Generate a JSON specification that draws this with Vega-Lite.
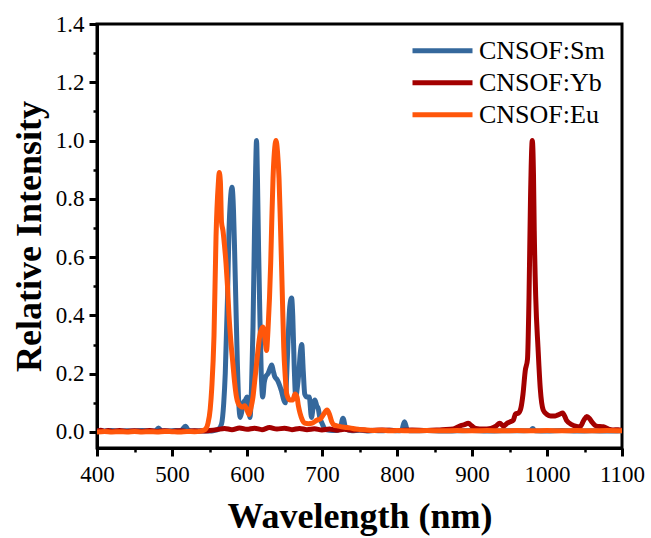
{
  "$schema": "https://vega.github.io/schema/vega-lite/v6.json",
  "width": 525,
  "height": 424,
  "autosize": {"type": "none"},
  "padding": {"left": 97, "top": 24, "right": 29, "bottom": 90},
  "background": "white",
  "config": {
    "font": "Liberation Serif",
    "view": {"stroke": "black", "strokeWidth": 3},
    "axis": {
      "domainColor": "black",
      "domainWidth": 3,
      "tickColor": "black",
      "tickWidth": 3,
      "grid": false,
      "labelFont": "Liberation Serif",
      "labelFontSize": 23,
      "labelColor": "black",
      "titleFont": "Liberation Serif",
      "titleFontSize": 36,
      "titleFontWeight": "bold",
      "titleColor": "black"
    }
  },
  "data": {
    "values": [
      {"sample": "CNSOF:Sm", "wavelength": 400, "intensity": 0.004},
      {"sample": "CNSOF:Sm", "wavelength": 410, "intensity": 0.003},
      {"sample": "CNSOF:Sm", "wavelength": 420, "intensity": 0.005},
      {"sample": "CNSOF:Sm", "wavelength": 430, "intensity": 0.002},
      {"sample": "CNSOF:Sm", "wavelength": 440, "intensity": 0.004},
      {"sample": "CNSOF:Sm", "wavelength": 450, "intensity": 0.003},
      {"sample": "CNSOF:Sm", "wavelength": 460, "intensity": 0.005},
      {"sample": "CNSOF:Sm", "wavelength": 470, "intensity": 0.003},
      {"sample": "CNSOF:Sm", "wavelength": 478, "intensity": 0.004},
      {"sample": "CNSOF:Sm", "wavelength": 482, "intensity": 0.014},
      {"sample": "CNSOF:Sm", "wavelength": 486, "intensity": 0.004},
      {"sample": "CNSOF:Sm", "wavelength": 495, "intensity": 0.003},
      {"sample": "CNSOF:Sm", "wavelength": 505, "intensity": 0.005},
      {"sample": "CNSOF:Sm", "wavelength": 512, "intensity": 0.004},
      {"sample": "CNSOF:Sm", "wavelength": 518, "intensity": 0.02},
      {"sample": "CNSOF:Sm", "wavelength": 522, "intensity": 0.005},
      {"sample": "CNSOF:Sm", "wavelength": 530, "intensity": 0.003},
      {"sample": "CNSOF:Sm", "wavelength": 540, "intensity": 0.004},
      {"sample": "CNSOF:Sm", "wavelength": 550, "intensity": 0.003},
      {"sample": "CNSOF:Sm", "wavelength": 556, "intensity": 0.005},
      {"sample": "CNSOF:Sm", "wavelength": 562, "intensity": 0.01},
      {"sample": "CNSOF:Sm", "wavelength": 566, "intensity": 0.027},
      {"sample": "CNSOF:Sm", "wavelength": 569, "intensity": 0.1},
      {"sample": "CNSOF:Sm", "wavelength": 571, "intensity": 0.2},
      {"sample": "CNSOF:Sm", "wavelength": 574, "intensity": 0.46},
      {"sample": "CNSOF:Sm", "wavelength": 576, "intensity": 0.69},
      {"sample": "CNSOF:Sm", "wavelength": 578, "intensity": 0.8},
      {"sample": "CNSOF:Sm", "wavelength": 580, "intensity": 0.84},
      {"sample": "CNSOF:Sm", "wavelength": 582, "intensity": 0.76},
      {"sample": "CNSOF:Sm", "wavelength": 583.5, "intensity": 0.62},
      {"sample": "CNSOF:Sm", "wavelength": 585, "intensity": 0.46},
      {"sample": "CNSOF:Sm", "wavelength": 587, "intensity": 0.25},
      {"sample": "CNSOF:Sm", "wavelength": 589, "intensity": 0.1},
      {"sample": "CNSOF:Sm", "wavelength": 591, "intensity": 0.05},
      {"sample": "CNSOF:Sm", "wavelength": 593, "intensity": 0.07},
      {"sample": "CNSOF:Sm", "wavelength": 595, "intensity": 0.1},
      {"sample": "CNSOF:Sm", "wavelength": 598, "intensity": 0.11},
      {"sample": "CNSOF:Sm", "wavelength": 600, "intensity": 0.12},
      {"sample": "CNSOF:Sm", "wavelength": 602, "intensity": 0.09},
      {"sample": "CNSOF:Sm", "wavelength": 604, "intensity": 0.05},
      {"sample": "CNSOF:Sm", "wavelength": 606, "intensity": 0.15},
      {"sample": "CNSOF:Sm", "wavelength": 608, "intensity": 0.36},
      {"sample": "CNSOF:Sm", "wavelength": 610, "intensity": 0.69},
      {"sample": "CNSOF:Sm", "wavelength": 611.5, "intensity": 0.9},
      {"sample": "CNSOF:Sm", "wavelength": 612.7, "intensity": 1.0},
      {"sample": "CNSOF:Sm", "wavelength": 614, "intensity": 0.86},
      {"sample": "CNSOF:Sm", "wavelength": 615.5, "intensity": 0.62},
      {"sample": "CNSOF:Sm", "wavelength": 617, "intensity": 0.42},
      {"sample": "CNSOF:Sm", "wavelength": 619, "intensity": 0.2},
      {"sample": "CNSOF:Sm", "wavelength": 621, "intensity": 0.12},
      {"sample": "CNSOF:Sm", "wavelength": 623, "intensity": 0.17},
      {"sample": "CNSOF:Sm", "wavelength": 625, "intensity": 0.19},
      {"sample": "CNSOF:Sm", "wavelength": 628, "intensity": 0.2},
      {"sample": "CNSOF:Sm", "wavelength": 631, "intensity": 0.22},
      {"sample": "CNSOF:Sm", "wavelength": 633, "intensity": 0.23},
      {"sample": "CNSOF:Sm", "wavelength": 635, "intensity": 0.21},
      {"sample": "CNSOF:Sm", "wavelength": 637, "intensity": 0.19},
      {"sample": "CNSOF:Sm", "wavelength": 640, "intensity": 0.18},
      {"sample": "CNSOF:Sm", "wavelength": 642, "intensity": 0.17},
      {"sample": "CNSOF:Sm", "wavelength": 646, "intensity": 0.14},
      {"sample": "CNSOF:Sm", "wavelength": 649, "intensity": 0.11},
      {"sample": "CNSOF:Sm", "wavelength": 651, "intensity": 0.1},
      {"sample": "CNSOF:Sm", "wavelength": 653, "intensity": 0.2},
      {"sample": "CNSOF:Sm", "wavelength": 655, "intensity": 0.33},
      {"sample": "CNSOF:Sm", "wavelength": 657, "intensity": 0.43},
      {"sample": "CNSOF:Sm", "wavelength": 659.5, "intensity": 0.46},
      {"sample": "CNSOF:Sm", "wavelength": 661, "intensity": 0.4},
      {"sample": "CNSOF:Sm", "wavelength": 663, "intensity": 0.22},
      {"sample": "CNSOF:Sm", "wavelength": 665, "intensity": 0.12},
      {"sample": "CNSOF:Sm", "wavelength": 667, "intensity": 0.15},
      {"sample": "CNSOF:Sm", "wavelength": 669, "intensity": 0.2},
      {"sample": "CNSOF:Sm", "wavelength": 671, "intensity": 0.27},
      {"sample": "CNSOF:Sm", "wavelength": 673, "intensity": 0.3},
      {"sample": "CNSOF:Sm", "wavelength": 675, "intensity": 0.21},
      {"sample": "CNSOF:Sm", "wavelength": 677, "intensity": 0.13},
      {"sample": "CNSOF:Sm", "wavelength": 680, "intensity": 0.12},
      {"sample": "CNSOF:Sm", "wavelength": 683, "intensity": 0.12},
      {"sample": "CNSOF:Sm", "wavelength": 686, "intensity": 0.05},
      {"sample": "CNSOF:Sm", "wavelength": 688, "intensity": 0.08},
      {"sample": "CNSOF:Sm", "wavelength": 690.5, "intensity": 0.11},
      {"sample": "CNSOF:Sm", "wavelength": 693, "intensity": 0.09},
      {"sample": "CNSOF:Sm", "wavelength": 695, "intensity": 0.08},
      {"sample": "CNSOF:Sm", "wavelength": 697, "intensity": 0.05},
      {"sample": "CNSOF:Sm", "wavelength": 700, "intensity": 0.03},
      {"sample": "CNSOF:Sm", "wavelength": 704, "intensity": 0.01},
      {"sample": "CNSOF:Sm", "wavelength": 710, "intensity": 0.006},
      {"sample": "CNSOF:Sm", "wavelength": 718, "intensity": 0.005},
      {"sample": "CNSOF:Sm", "wavelength": 724, "intensity": 0.01},
      {"sample": "CNSOF:Sm", "wavelength": 728, "intensity": 0.047},
      {"sample": "CNSOF:Sm", "wavelength": 732, "intensity": 0.01},
      {"sample": "CNSOF:Sm", "wavelength": 740, "intensity": 0.004},
      {"sample": "CNSOF:Sm", "wavelength": 750, "intensity": 0.006},
      {"sample": "CNSOF:Sm", "wavelength": 760, "intensity": 0.003},
      {"sample": "CNSOF:Sm", "wavelength": 770, "intensity": 0.005},
      {"sample": "CNSOF:Sm", "wavelength": 780, "intensity": 0.004},
      {"sample": "CNSOF:Sm", "wavelength": 790, "intensity": 0.006},
      {"sample": "CNSOF:Sm", "wavelength": 800, "intensity": 0.004},
      {"sample": "CNSOF:Sm", "wavelength": 806, "intensity": 0.005},
      {"sample": "CNSOF:Sm", "wavelength": 810, "intensity": 0.035},
      {"sample": "CNSOF:Sm", "wavelength": 814, "intensity": 0.006},
      {"sample": "CNSOF:Sm", "wavelength": 820, "intensity": 0.004},
      {"sample": "CNSOF:Sm", "wavelength": 840, "intensity": 0.005},
      {"sample": "CNSOF:Sm", "wavelength": 860, "intensity": 0.003},
      {"sample": "CNSOF:Sm", "wavelength": 880, "intensity": 0.004},
      {"sample": "CNSOF:Sm", "wavelength": 900, "intensity": 0.005},
      {"sample": "CNSOF:Sm", "wavelength": 920, "intensity": 0.003},
      {"sample": "CNSOF:Sm", "wavelength": 940, "intensity": 0.004},
      {"sample": "CNSOF:Sm", "wavelength": 960, "intensity": 0.004},
      {"sample": "CNSOF:Sm", "wavelength": 978, "intensity": 0.005},
      {"sample": "CNSOF:Sm", "wavelength": 981, "intensity": 0.012},
      {"sample": "CNSOF:Sm", "wavelength": 984, "intensity": 0.004},
      {"sample": "CNSOF:Sm", "wavelength": 1000, "intensity": 0.003},
      {"sample": "CNSOF:Sm", "wavelength": 1020, "intensity": 0.005},
      {"sample": "CNSOF:Sm", "wavelength": 1040, "intensity": 0.003},
      {"sample": "CNSOF:Sm", "wavelength": 1060, "intensity": 0.004},
      {"sample": "CNSOF:Sm", "wavelength": 1080, "intensity": 0.003},
      {"sample": "CNSOF:Sm", "wavelength": 1100, "intensity": 0.004},

      {"sample": "CNSOF:Yb", "wavelength": 400, "intensity": 0.003},
      {"sample": "CNSOF:Yb", "wavelength": 405, "intensity": 0.006},
      {"sample": "CNSOF:Yb", "wavelength": 410, "intensity": 0.002},
      {"sample": "CNSOF:Yb", "wavelength": 415, "intensity": 0.005},
      {"sample": "CNSOF:Yb", "wavelength": 420, "intensity": 0.002},
      {"sample": "CNSOF:Yb", "wavelength": 430, "intensity": 0.005},
      {"sample": "CNSOF:Yb", "wavelength": 440, "intensity": 0.002},
      {"sample": "CNSOF:Yb", "wavelength": 450, "intensity": 0.004},
      {"sample": "CNSOF:Yb", "wavelength": 460, "intensity": 0.002},
      {"sample": "CNSOF:Yb", "wavelength": 470, "intensity": 0.005},
      {"sample": "CNSOF:Yb", "wavelength": 480, "intensity": 0.002},
      {"sample": "CNSOF:Yb", "wavelength": 490, "intensity": 0.004},
      {"sample": "CNSOF:Yb", "wavelength": 500, "intensity": 0.002},
      {"sample": "CNSOF:Yb", "wavelength": 510, "intensity": 0.004},
      {"sample": "CNSOF:Yb", "wavelength": 520, "intensity": 0.002},
      {"sample": "CNSOF:Yb", "wavelength": 530, "intensity": 0.004},
      {"sample": "CNSOF:Yb", "wavelength": 540, "intensity": 0.003},
      {"sample": "CNSOF:Yb", "wavelength": 550, "intensity": 0.005},
      {"sample": "CNSOF:Yb", "wavelength": 560, "intensity": 0.008},
      {"sample": "CNSOF:Yb", "wavelength": 570, "intensity": 0.012},
      {"sample": "CNSOF:Yb", "wavelength": 580, "intensity": 0.008},
      {"sample": "CNSOF:Yb", "wavelength": 590, "intensity": 0.014},
      {"sample": "CNSOF:Yb", "wavelength": 600, "intensity": 0.009},
      {"sample": "CNSOF:Yb", "wavelength": 610, "intensity": 0.013},
      {"sample": "CNSOF:Yb", "wavelength": 620, "intensity": 0.008},
      {"sample": "CNSOF:Yb", "wavelength": 630, "intensity": 0.015},
      {"sample": "CNSOF:Yb", "wavelength": 640, "intensity": 0.01},
      {"sample": "CNSOF:Yb", "wavelength": 650, "intensity": 0.013},
      {"sample": "CNSOF:Yb", "wavelength": 660, "intensity": 0.008},
      {"sample": "CNSOF:Yb", "wavelength": 670, "intensity": 0.012},
      {"sample": "CNSOF:Yb", "wavelength": 680, "intensity": 0.008},
      {"sample": "CNSOF:Yb", "wavelength": 690, "intensity": 0.011},
      {"sample": "CNSOF:Yb", "wavelength": 700, "intensity": 0.007},
      {"sample": "CNSOF:Yb", "wavelength": 710, "intensity": 0.01},
      {"sample": "CNSOF:Yb", "wavelength": 720, "intensity": 0.006},
      {"sample": "CNSOF:Yb", "wavelength": 730, "intensity": 0.009},
      {"sample": "CNSOF:Yb", "wavelength": 740, "intensity": 0.006},
      {"sample": "CNSOF:Yb", "wavelength": 750, "intensity": 0.008},
      {"sample": "CNSOF:Yb", "wavelength": 760, "intensity": 0.005},
      {"sample": "CNSOF:Yb", "wavelength": 780, "intensity": 0.007},
      {"sample": "CNSOF:Yb", "wavelength": 800, "intensity": 0.005},
      {"sample": "CNSOF:Yb", "wavelength": 820, "intensity": 0.007},
      {"sample": "CNSOF:Yb", "wavelength": 840, "intensity": 0.005},
      {"sample": "CNSOF:Yb", "wavelength": 860, "intensity": 0.008},
      {"sample": "CNSOF:Yb", "wavelength": 875, "intensity": 0.01},
      {"sample": "CNSOF:Yb", "wavelength": 885, "intensity": 0.022},
      {"sample": "CNSOF:Yb", "wavelength": 890, "intensity": 0.025},
      {"sample": "CNSOF:Yb", "wavelength": 895, "intensity": 0.03},
      {"sample": "CNSOF:Yb", "wavelength": 900, "intensity": 0.02},
      {"sample": "CNSOF:Yb", "wavelength": 905, "intensity": 0.012},
      {"sample": "CNSOF:Yb", "wavelength": 915, "intensity": 0.01},
      {"sample": "CNSOF:Yb", "wavelength": 925, "intensity": 0.012},
      {"sample": "CNSOF:Yb", "wavelength": 932, "intensity": 0.02},
      {"sample": "CNSOF:Yb", "wavelength": 937, "intensity": 0.03},
      {"sample": "CNSOF:Yb", "wavelength": 942, "intensity": 0.02},
      {"sample": "CNSOF:Yb", "wavelength": 947, "intensity": 0.03},
      {"sample": "CNSOF:Yb", "wavelength": 951, "intensity": 0.035},
      {"sample": "CNSOF:Yb", "wavelength": 955, "intensity": 0.04},
      {"sample": "CNSOF:Yb", "wavelength": 958, "intensity": 0.062},
      {"sample": "CNSOF:Yb", "wavelength": 962, "intensity": 0.065},
      {"sample": "CNSOF:Yb", "wavelength": 965, "intensity": 0.08},
      {"sample": "CNSOF:Yb", "wavelength": 968, "intensity": 0.13},
      {"sample": "CNSOF:Yb", "wavelength": 971, "intensity": 0.21},
      {"sample": "CNSOF:Yb", "wavelength": 974, "intensity": 0.25},
      {"sample": "CNSOF:Yb", "wavelength": 976, "intensity": 0.46},
      {"sample": "CNSOF:Yb", "wavelength": 978, "intensity": 0.8},
      {"sample": "CNSOF:Yb", "wavelength": 980.4, "intensity": 1.0},
      {"sample": "CNSOF:Yb", "wavelength": 982, "intensity": 0.88},
      {"sample": "CNSOF:Yb", "wavelength": 983, "intensity": 0.69},
      {"sample": "CNSOF:Yb", "wavelength": 985, "intensity": 0.46},
      {"sample": "CNSOF:Yb", "wavelength": 988, "intensity": 0.29},
      {"sample": "CNSOF:Yb", "wavelength": 991, "intensity": 0.15},
      {"sample": "CNSOF:Yb", "wavelength": 995, "intensity": 0.075},
      {"sample": "CNSOF:Yb", "wavelength": 1000, "intensity": 0.06},
      {"sample": "CNSOF:Yb", "wavelength": 1005, "intensity": 0.055},
      {"sample": "CNSOF:Yb", "wavelength": 1011, "intensity": 0.055},
      {"sample": "CNSOF:Yb", "wavelength": 1016, "intensity": 0.06},
      {"sample": "CNSOF:Yb", "wavelength": 1021, "intensity": 0.065},
      {"sample": "CNSOF:Yb", "wavelength": 1026, "intensity": 0.04},
      {"sample": "CNSOF:Yb", "wavelength": 1033, "intensity": 0.025},
      {"sample": "CNSOF:Yb", "wavelength": 1038, "intensity": 0.02},
      {"sample": "CNSOF:Yb", "wavelength": 1044, "intensity": 0.018},
      {"sample": "CNSOF:Yb", "wavelength": 1049, "intensity": 0.04},
      {"sample": "CNSOF:Yb", "wavelength": 1053, "intensity": 0.053},
      {"sample": "CNSOF:Yb", "wavelength": 1057, "intensity": 0.045},
      {"sample": "CNSOF:Yb", "wavelength": 1060, "intensity": 0.034},
      {"sample": "CNSOF:Yb", "wavelength": 1066, "intensity": 0.02},
      {"sample": "CNSOF:Yb", "wavelength": 1075, "intensity": 0.018},
      {"sample": "CNSOF:Yb", "wavelength": 1082, "intensity": 0.01},
      {"sample": "CNSOF:Yb", "wavelength": 1088, "intensity": 0.007},
      {"sample": "CNSOF:Yb", "wavelength": 1095, "intensity": 0.008},
      {"sample": "CNSOF:Yb", "wavelength": 1100, "intensity": 0.006},

      {"sample": "CNSOF:Eu", "wavelength": 400, "intensity": 0.0},
      {"sample": "CNSOF:Eu", "wavelength": 410, "intensity": 0.002},
      {"sample": "CNSOF:Eu", "wavelength": 420, "intensity": 0.0},
      {"sample": "CNSOF:Eu", "wavelength": 430, "intensity": 0.001},
      {"sample": "CNSOF:Eu", "wavelength": 440, "intensity": 0.0},
      {"sample": "CNSOF:Eu", "wavelength": 450, "intensity": 0.002},
      {"sample": "CNSOF:Eu", "wavelength": 460, "intensity": 0.0},
      {"sample": "CNSOF:Eu", "wavelength": 470, "intensity": 0.001},
      {"sample": "CNSOF:Eu", "wavelength": 480, "intensity": 0.0},
      {"sample": "CNSOF:Eu", "wavelength": 490, "intensity": 0.002},
      {"sample": "CNSOF:Eu", "wavelength": 500, "intensity": 0.001},
      {"sample": "CNSOF:Eu", "wavelength": 510, "intensity": 0.0},
      {"sample": "CNSOF:Eu", "wavelength": 520, "intensity": 0.002},
      {"sample": "CNSOF:Eu", "wavelength": 530, "intensity": 0.001},
      {"sample": "CNSOF:Eu", "wavelength": 538, "intensity": 0.003},
      {"sample": "CNSOF:Eu", "wavelength": 544, "intensity": 0.008},
      {"sample": "CNSOF:Eu", "wavelength": 548, "intensity": 0.03},
      {"sample": "CNSOF:Eu", "wavelength": 551, "intensity": 0.08},
      {"sample": "CNSOF:Eu", "wavelength": 553, "intensity": 0.15},
      {"sample": "CNSOF:Eu", "wavelength": 556, "intensity": 0.33},
      {"sample": "CNSOF:Eu", "wavelength": 558.7, "intensity": 0.67},
      {"sample": "CNSOF:Eu", "wavelength": 561.7, "intensity": 0.85},
      {"sample": "CNSOF:Eu", "wavelength": 563, "intensity": 0.89},
      {"sample": "CNSOF:Eu", "wavelength": 564.5, "intensity": 0.86},
      {"sample": "CNSOF:Eu", "wavelength": 566, "intensity": 0.72},
      {"sample": "CNSOF:Eu", "wavelength": 568, "intensity": 0.69},
      {"sample": "CNSOF:Eu", "wavelength": 570, "intensity": 0.64},
      {"sample": "CNSOF:Eu", "wavelength": 572, "intensity": 0.58},
      {"sample": "CNSOF:Eu", "wavelength": 574, "intensity": 0.5},
      {"sample": "CNSOF:Eu", "wavelength": 576, "intensity": 0.4},
      {"sample": "CNSOF:Eu", "wavelength": 578.5, "intensity": 0.31},
      {"sample": "CNSOF:Eu", "wavelength": 581, "intensity": 0.24},
      {"sample": "CNSOF:Eu", "wavelength": 583.5, "intensity": 0.17},
      {"sample": "CNSOF:Eu", "wavelength": 586, "intensity": 0.12},
      {"sample": "CNSOF:Eu", "wavelength": 588, "intensity": 0.1},
      {"sample": "CNSOF:Eu", "wavelength": 590.7, "intensity": 0.09},
      {"sample": "CNSOF:Eu", "wavelength": 594, "intensity": 0.085},
      {"sample": "CNSOF:Eu", "wavelength": 597, "intensity": 0.09},
      {"sample": "CNSOF:Eu", "wavelength": 600, "intensity": 0.075},
      {"sample": "CNSOF:Eu", "wavelength": 602.7, "intensity": 0.06},
      {"sample": "CNSOF:Eu", "wavelength": 605, "intensity": 0.08},
      {"sample": "CNSOF:Eu", "wavelength": 608, "intensity": 0.12},
      {"sample": "CNSOF:Eu", "wavelength": 610.5, "intensity": 0.18},
      {"sample": "CNSOF:Eu", "wavelength": 613, "intensity": 0.24},
      {"sample": "CNSOF:Eu", "wavelength": 617, "intensity": 0.33},
      {"sample": "CNSOF:Eu", "wavelength": 621, "intensity": 0.36},
      {"sample": "CNSOF:Eu", "wavelength": 623.5, "intensity": 0.33},
      {"sample": "CNSOF:Eu", "wavelength": 626, "intensity": 0.28},
      {"sample": "CNSOF:Eu", "wavelength": 628, "intensity": 0.35},
      {"sample": "CNSOF:Eu", "wavelength": 630, "intensity": 0.46},
      {"sample": "CNSOF:Eu", "wavelength": 631.6, "intensity": 0.58},
      {"sample": "CNSOF:Eu", "wavelength": 633, "intensity": 0.72},
      {"sample": "CNSOF:Eu", "wavelength": 634.7, "intensity": 0.87},
      {"sample": "CNSOF:Eu", "wavelength": 636.5, "intensity": 0.96},
      {"sample": "CNSOF:Eu", "wavelength": 638.7, "intensity": 1.0},
      {"sample": "CNSOF:Eu", "wavelength": 640.7, "intensity": 0.96},
      {"sample": "CNSOF:Eu", "wavelength": 642.7, "intensity": 0.87},
      {"sample": "CNSOF:Eu", "wavelength": 644.5, "intensity": 0.72},
      {"sample": "CNSOF:Eu", "wavelength": 646, "intensity": 0.58},
      {"sample": "CNSOF:Eu", "wavelength": 647.5, "intensity": 0.43},
      {"sample": "CNSOF:Eu", "wavelength": 649, "intensity": 0.29},
      {"sample": "CNSOF:Eu", "wavelength": 651, "intensity": 0.19},
      {"sample": "CNSOF:Eu", "wavelength": 653, "intensity": 0.13},
      {"sample": "CNSOF:Eu", "wavelength": 657, "intensity": 0.11},
      {"sample": "CNSOF:Eu", "wavelength": 661, "intensity": 0.11},
      {"sample": "CNSOF:Eu", "wavelength": 664, "intensity": 0.13},
      {"sample": "CNSOF:Eu", "wavelength": 666.7, "intensity": 0.12},
      {"sample": "CNSOF:Eu", "wavelength": 668.5, "intensity": 0.09},
      {"sample": "CNSOF:Eu", "wavelength": 670.7, "intensity": 0.065},
      {"sample": "CNSOF:Eu", "wavelength": 674, "intensity": 0.04},
      {"sample": "CNSOF:Eu", "wavelength": 677, "intensity": 0.03},
      {"sample": "CNSOF:Eu", "wavelength": 682, "intensity": 0.028},
      {"sample": "CNSOF:Eu", "wavelength": 687, "intensity": 0.03},
      {"sample": "CNSOF:Eu", "wavelength": 693, "intensity": 0.04},
      {"sample": "CNSOF:Eu", "wavelength": 698, "intensity": 0.045},
      {"sample": "CNSOF:Eu", "wavelength": 702, "intensity": 0.06},
      {"sample": "CNSOF:Eu", "wavelength": 706.7, "intensity": 0.075},
      {"sample": "CNSOF:Eu", "wavelength": 710, "intensity": 0.06},
      {"sample": "CNSOF:Eu", "wavelength": 713, "intensity": 0.035},
      {"sample": "CNSOF:Eu", "wavelength": 716, "intensity": 0.024},
      {"sample": "CNSOF:Eu", "wavelength": 722, "intensity": 0.02},
      {"sample": "CNSOF:Eu", "wavelength": 730, "intensity": 0.016},
      {"sample": "CNSOF:Eu", "wavelength": 737, "intensity": 0.014},
      {"sample": "CNSOF:Eu", "wavelength": 745, "intensity": 0.01},
      {"sample": "CNSOF:Eu", "wavelength": 752, "intensity": 0.008},
      {"sample": "CNSOF:Eu", "wavelength": 760, "intensity": 0.007},
      {"sample": "CNSOF:Eu", "wavelength": 770, "intensity": 0.005},
      {"sample": "CNSOF:Eu", "wavelength": 780, "intensity": 0.006},
      {"sample": "CNSOF:Eu", "wavelength": 790, "intensity": 0.004},
      {"sample": "CNSOF:Eu", "wavelength": 800, "intensity": 0.005},
      {"sample": "CNSOF:Eu", "wavelength": 820, "intensity": 0.004},
      {"sample": "CNSOF:Eu", "wavelength": 840, "intensity": 0.005},
      {"sample": "CNSOF:Eu", "wavelength": 860, "intensity": 0.004},
      {"sample": "CNSOF:Eu", "wavelength": 880, "intensity": 0.005},
      {"sample": "CNSOF:Eu", "wavelength": 900, "intensity": 0.004},
      {"sample": "CNSOF:Eu", "wavelength": 920, "intensity": 0.005},
      {"sample": "CNSOF:Eu", "wavelength": 940, "intensity": 0.004},
      {"sample": "CNSOF:Eu", "wavelength": 960, "intensity": 0.005},
      {"sample": "CNSOF:Eu", "wavelength": 980, "intensity": 0.004},
      {"sample": "CNSOF:Eu", "wavelength": 1000, "intensity": 0.005},
      {"sample": "CNSOF:Eu", "wavelength": 1020, "intensity": 0.004},
      {"sample": "CNSOF:Eu", "wavelength": 1040, "intensity": 0.005},
      {"sample": "CNSOF:Eu", "wavelength": 1060, "intensity": 0.004},
      {"sample": "CNSOF:Eu", "wavelength": 1080, "intensity": 0.005},
      {"sample": "CNSOF:Eu", "wavelength": 1100, "intensity": 0.004}
    ]
  },
  "layer": [
    {
      "mark": {"type": "line", "strokeWidth": 5, "interpolate": "monotone", "clip": true, "strokeJoin": "round", "strokeCap": "round"},
      "encoding": {
        "x": {
          "field": "wavelength",
          "type": "quantitative",
          "scale": {"domain": [400, 1100], "nice": false, "zero": false},
          "axis": {
            "orient": "bottom",
            "title": "Wavelength (nm)",
            "values": [400, 500, 600, 700, 800, 900, 1000, 1100],
            "format": "d",
            "tickSize": 8,
            "labelPadding": 7,
            "labelFlush": false,
            "labelOverlap": false,
            "titlePadding": 13
          }
        },
        "y": {
          "field": "intensity",
          "type": "quantitative",
          "scale": {"domain": [-0.055, 1.4], "nice": false, "zero": false},
          "axis": {
            "orient": "left",
            "title": "Relative Intensity",
            "values": [0, 0.2, 0.4, 0.6, 0.8, 1.0, 1.2, 1.4],
            "format": ".1f",
            "tickSize": 8,
            "labelPadding": 5,
            "labelFlush": false,
            "labelOverlap": false,
            "titlePadding": 7
          }
        },
        "color": {
          "field": "sample",
          "type": "nominal",
          "sort": ["CNSOF:Sm", "CNSOF:Yb", "CNSOF:Eu"],
          "scale": {"domain": ["CNSOF:Sm", "CNSOF:Yb", "CNSOF:Eu"], "range": ["#35689C", "#A30000", "#FF560A"]},
          "legend": {
            "title": null,
            "orient": "none",
            "legendX": 313,
            "legendY": 11,
            "padding": 0,
            "symbolType": "stroke",
            "symbolSize": 3600,
            "symbolStrokeWidth": 5,
            "labelFont": "Liberation Serif",
            "labelFontSize": 26,
            "labelColor": "black",
            "labelOffset": 4,
            "clipHeight": 31.5,
            "rowPadding": 0
          }
        }
      }
    },
    {
      "mark": {"type": "point", "opacity": 0},
      "encoding": {
        "x": {
          "field": "wavelength",
          "type": "quantitative",
          "axis": {
            "orient": "bottom",
            "title": null,
            "values": [450, 550, 650, 750, 850, 950, 1050],
            "labels": false,
            "domain": false,
            "tickSize": 4,
            "tickWidth": 2.5
          }
        },
        "y": {
          "field": "intensity",
          "type": "quantitative",
          "axis": {
            "orient": "left",
            "title": null,
            "values": [0.1, 0.3, 0.5, 0.7, 0.9, 1.1, 1.3],
            "labels": false,
            "domain": false,
            "tickSize": 4,
            "tickWidth": 2.5
          }
        }
      }
    }
  ],
  "resolve": {"axis": {"x": "independent", "y": "independent"}}
}
